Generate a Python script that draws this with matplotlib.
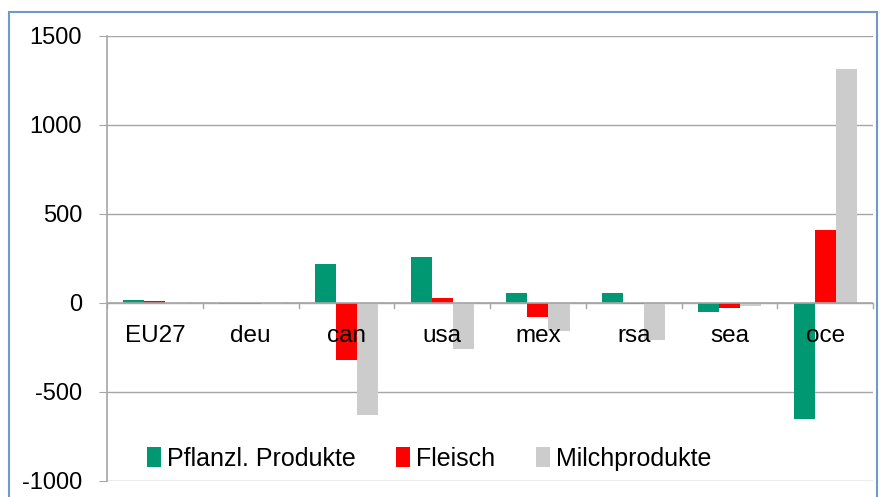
import matplotlib.pyplot as plt
import numpy as np
from matplotlib.patches import Rectangle

# Data
regions = ['EU27', 'deu', 'can', 'usa', 'mex', 'rsa', 'sea', 'oce']
pflanzl = [17, -8, 220, 260, 56, 56, -50, -650]
fleisch = [10, -4, -320, 30, -77, -8, -26, 412]
milch = [-5, -3, -628, -258, -155, -208, -19, 1313]

plt.rcParams['font.family'] = ['Liberation Sans', 'DejaVu Sans']
plt.rcParams['axes.unicode_minus'] = False

fig = plt.figure(figsize=(8.8, 4.97), dpi=100)
ax = fig.add_axes([0.1216, 0.0322, 0.8705, 0.8954])

# outer chart border
fig.patches.append(Rectangle((9 / 880, -0.05), 868 / 880, 1 - 12 / 497 + 0.05,
                             transform=fig.transFigure, fill=False,
                             edgecolor='#6F98CC', linewidth=1.5))

x = np.arange(len(regions)) + 0.5
w = 0.22
ax.bar(x - w, pflanzl, w, color='#009873', label='Pflanzl. Produkte', zorder=3)
ax.bar(x, fleisch, w, color='#FF0000', label='Fleisch', zorder=3)
ax.bar(x + w, milch, w, color='#CCCCCC', label='Milchprodukte', zorder=3)

ax.set_xlim(0, len(regions))
ax.set_ylim(-1000, 1500)
ax.set_yticks([-1000, -500, 0, 500, 1000, 1500])
ax.grid(axis='y', color='#A6A6A6', linewidth=1, zorder=0)
ax.axhline(0, color='#A6A6A6', linewidth=1.2, zorder=4)

for s in ['top', 'right', 'bottom']:
    ax.spines[s].set_visible(False)
ax.spines['left'].set_color('#A6A6A6')
ax.spines['left'].set_linewidth(1.2)
ax.tick_params(axis='y', labelsize=17, length=6, color='#A6A6A6', pad=12)

# category ticks on the zero line
ax.set_xticks([])
for b in range(len(regions) + 1):
    ax.plot([b, b], [0, -30], color='#A6A6A6', linewidth=1, zorder=4, clip_on=False)
for xi, r in zip(x, regions):
    ax.text(xi, -185, r, ha='center', va='center', fontsize=17.5, zorder=5)

leg = ax.legend(loc='lower left', bbox_to_anchor=(0.023, -0.027), ncol=3, frameon=False,
                fontsize=18, handlelength=0.55, handleheight=0.85, handletextpad=0.25,
                columnspacing=1.62)

fig.savefig('out.png', dpi=100)
